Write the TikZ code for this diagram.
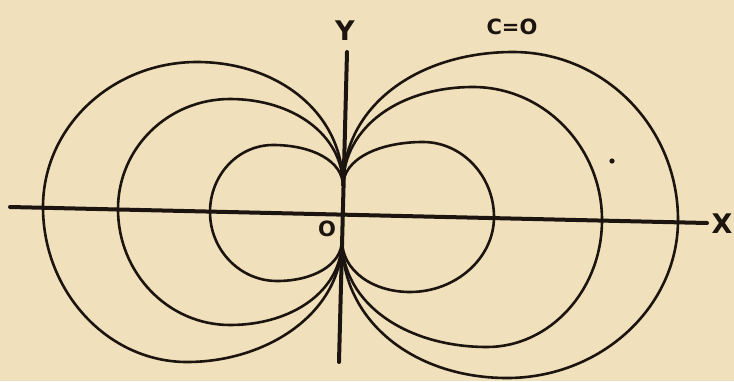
\documentclass[tikz,border=0pt]{standalone}
\usepackage{fontspec}
\setmainfont{DejaVu Sans}
\usepackage{xcolor}
\usepackage{tikz}
\definecolor{paper}{RGB}{240,224,188}
\definecolor{ink}{RGB}{28,20,14}
\tikzset{
  axis/.style={
    draw=ink,
    line width=4pt,
    line cap=round
  },
  loop/.style={
    draw=ink,
    line width=2.6pt
  },
  axlabel/.style={
    text=ink,
    inner sep=0pt,
    font=\bfseries\fontsize{27}{27}\selectfont
  },
  curvelabel/.style={
    text=ink,
    inner sep=0pt,
    font=\bfseries\fontsize{21}{21}\selectfont
  }
}

\begin{document}
\begin{tikzpicture}[x=1pt,y=-1pt]
  \fill[paper] (0,0) rectangle (734,381);
  \useasboundingbox (0,0) rectangle (734,381);

  % axes
  \coordinate (xl) at (10,207);
  \coordinate (xr) at (707,223);
  \coordinate (yt) at (347,52);
  \coordinate (yb) at (339,362);
  \draw[axis] (xl) -- (xr);
  \draw[axis] (yt) -- (yb);

  % meeting points on the y-axis
  \coordinate (up) at (343,186);
  \coordinate (lo) at (342,240);

  % right family
  \draw[loop] (up) .. controls (343,105) and (419,52) .. (513,52)
                   .. controls (604,52) and (678,127) .. (678,220)
                   .. controls (678,307) and (601,378) .. (507,378)
                   .. controls (416,378) and (342,323) .. (lo);
  \draw[loop] (up) .. controls (343,126) and (401,87) .. (473,87)
                   .. controls (544,87) and (602,147) .. (602,220)
                   .. controls (602,290) and (550,347) .. (487,347)
                   .. controls (407,347) and (342,304) .. (lo);
  \draw[loop] (up) .. controls (343,159) and (379,142) .. (423,142)
                   .. controls (462,142) and (494,176) .. (494,217)
                   .. controls (494,258) and (456,292) .. (410,292)
                   .. controls (373,292) and (342,271) .. (lo);

  % left family
  \draw[loop] (up) .. controls (343,112) and (277,62) .. (197,62)
                   .. controls (112,62) and (43,127) .. (43,207)
                   .. controls (43,292) and (108,362) .. (187,362)
                   .. controls (267,362) and (342,313) .. (lo);
  \draw[loop] (up) .. controls (343,134) and (292,99) .. (230,99)
                   .. controls (168,99) and (118,148) .. (118,209)
                   .. controls (118,273) and (168,325) .. (230,325)
                   .. controls (292,325) and (342,291) .. (lo);
  \draw[loop] (up) .. controls (343,161) and (312,145) .. (273,145)
                   .. controls (238,145) and (210,175) .. (210,212)
                   .. controls (210,250) and (240,281) .. (277,281)
                   .. controls (313,281) and (342,265) .. (lo);

  \fill[ink] (612,161) circle (2.6pt);

  % labels
  \node[axlabel] (ylab) at (345,31) {Y};
  \node[axlabel] (xlab) at (722,224) {X};
  \node[curvelabel] (olab) at (327,229) {O};
  \node[curvelabel] (clab) at (512,27) {C=O};
\end{tikzpicture}
\end{document}
